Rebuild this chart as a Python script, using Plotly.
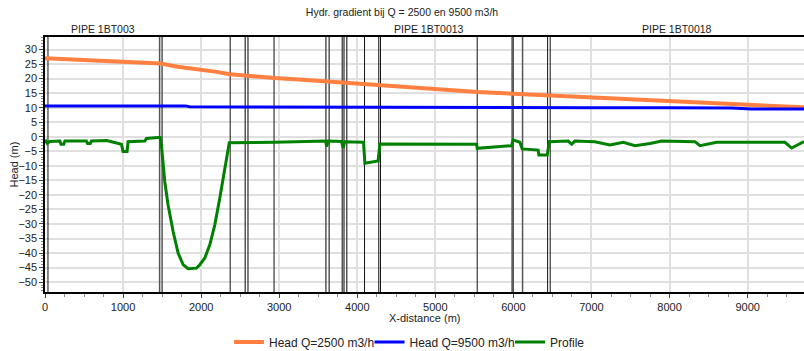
import plotly.graph_objects as go

# ---- data ----
head1_x = [0, 300, 700, 1000, 1250, 1480, 1700, 2000, 2200, 2370, 2600, 2940, 3300, 3600,
           3850, 4100, 4300, 4545, 4900, 5540, 6000, 6470, 7000, 7500, 8000, 8500, 9000, 9400, 9722]
head1_y = [27.0, 26.7, 26.3, 26.0, 25.7, 25.2, 24.1, 23.1, 22.3, 21.5, 20.9, 20.2, 19.6, 19.1,
           18.6, 18.1, 17.7, 17.2, 16.6, 15.4, 14.8, 14.3, 13.5, 13.0, 12.4, 11.8, 11.1, 10.6, 10.1]

head2_x = [0, 1800, 1850, 3000, 3600, 5000, 6000, 7000, 8000, 8800, 9050, 9722]
head2_y = [10.6, 10.6, 10.3, 10.2, 10.1, 10.1, 10.1, 10.0, 10.0, 9.9, 9.5, 9.5]

prof_x = [0, 30, 60, 190, 205, 240, 255, 530, 545, 580, 595, 790, 979, 1000, 1051, 1064,
          1278, 1300, 1448, 1475, 1491, 1504, 1534, 1576, 1641, 1705, 1769, 1833, 1940, 1983,
          2047, 2111, 2175, 2239, 2303, 2360, 2940, 3597, 3606, 3630, 3798, 3819, 3840, 4080,
          4097, 4267, 4289, 5528, 5536, 5976, 5997, 6083, 6112, 6317, 6326, 6433, 6459, 6703,
          6746, 6788, 7044, 7236, 7407, 7557, 7749, 7899, 8325, 8389, 8603, 9478, 9564, 9722]
prof_y = [-1.0, -2.3, -1.6, -1.5, -2.6, -2.6, -1.5, -1.5, -2.3, -2.3, -1.5, -1.3, -2.6, -5.1,
          -5.1, -1.7, -1.5, -0.6, -0.3, -0.3, -2.8, -7.4, -15.4, -23.4, -32.6, -40.0, -44.0,
          -45.4, -45.2, -44.0, -41.7, -37.2, -30.3, -21.1, -10.8, -2.1, -1.9, -1.5, -3.4, -1.5,
          -1.6, -3.8, -1.7, -1.9, -9.1, -8.3, -2.5, -2.6, -4.0, -3.1, -1.1, -1.9, -4.2, -4.6,
          -6.3, -6.3, -1.7, -1.5, -2.6, -1.5, -1.7, -2.8, -1.9, -3.1, -2.3, -1.5, -1.7, -3.1,
          -1.9, -1.9, -3.9, -1.7]

node_x = [38, 2372, 2934, 4093, 4275, 4297, 5536, 6438, 6471]
valve_x = [1468, 1500, 2565, 2600, 3598, 3640, 3808, 3830, 3865, 5983, 5998, 6117]

pipe_labels = ["PIPE 1BT003", "PIPE 1BT0013", "PIPE 1BT0018"]
pipe_label_x = [740, 4920, 8100]

series_names = ["Head Q=2500 m3/h", "Head Q=9500 m3/h", "Profile"]
title_text = "Hydr. gradient bij Q = 2500 en 9500 m3/h"

X_RANGE = [0, 9722]
Y_RANGE = [-53.4, 34.3]

FONT = "Liberation Sans, Arial, sans-serif"
TXT = "#222222"


def vlines(xs):
    vx, vy = [], []
    for xv in xs:
        vx += [xv, xv, None]
        vy += [Y_RANGE[0], Y_RANGE[1], None]
    return vx, vy


fig = go.Figure()
nx, ny = vlines(node_x)
fig.add_trace(go.Scatter(x=nx, y=ny, mode="lines", showlegend=False, hoverinfo="skip",
                         line=dict(color="#111111", width=1)))
vx, vy = vlines(valve_x)
fig.add_trace(go.Scatter(x=vx, y=vy, mode="lines", showlegend=False, hoverinfo="skip",
                         line=dict(color="#555555", width=1.5)))

fig.add_trace(go.Scatter(x=head1_x, y=head1_y, mode="lines", name=series_names[0],
                         line=dict(color="#FF8040", width=4)))
fig.add_trace(go.Scatter(x=head2_x, y=head2_y, mode="lines", name=series_names[1],
                         line=dict(color="#0000FF", width=3)))
fig.add_trace(go.Scatter(x=prof_x, y=prof_y, mode="lines", name=series_names[2],
                         line=dict(color="#008000", width=3)))

annotations = []
for lab, xv in zip(pipe_labels, pipe_label_x):
    annotations.append(dict(text=lab, x=xv, xref="x", y=1, yref="paper", yanchor="bottom",
                            showarrow=False, font=dict(size=10.5, color=TXT, family=FONT)))
annotations.append(dict(text="X-distance (m)", x=0.5, xref="paper", y=-(318 - 292) / 256,
                        yref="paper", yanchor="middle", showarrow=False,
                        font=dict(size=11, color=TXT, family=FONT)))
annotations.append(dict(text="Head (m)", x=(13 - 45) / 759, xref="paper", y=0.5, yref="paper",
                        textangle=-90, showarrow=False, xanchor="center", yanchor="middle",
                        font=dict(size=11, color=TXT, family=FONT)))

fig.update_layout(
    width=804, height=351,
    margin=dict(l=45, r=0, t=37, b=59),
    paper_bgcolor="white", plot_bgcolor="white",
    font=dict(family=FONT, size=11, color=TXT),
    title=dict(text=title_text, x=0.5, xref="container", xanchor="center",
               y=1 - 12 / 351, yref="container", yanchor="middle",
               font=dict(size=10.5, color=TXT, family=FONT)),
    showlegend=True,
    legend=dict(orientation="h", x=229 / 804, xref="container", xanchor="left",
                y=1 - 342 / 351, yref="container", yanchor="middle",
                font=dict(size=12, color=TXT, family=FONT),
                bgcolor="rgba(0,0,0,0)", itemwidth=30, entrywidth=95.5,
                entrywidthmode="pixels"),
    annotations=annotations,
)
fig.update_xaxes(range=X_RANGE, dtick=1000, tick0=0, showgrid=True, gridcolor="#e0e0e0",
                 gridwidth=1.5, showline=True, linecolor="black", linewidth=1.5, mirror=True,
                 ticks="outside", ticklen=4, tickcolor="#444444", zeroline=False,
                 tickfont=dict(size=11, color=TXT, family=FONT),
                 minor=dict(dtick=250, ticks="outside", ticklen=3, tickcolor="#888888",
                            showgrid=False))
fig.update_yaxes(range=Y_RANGE, dtick=5, tick0=0, showgrid=True, gridcolor="#e0e0e0",
                 gridwidth=1.5, showline=True, linecolor="black", linewidth=1.5, mirror=False,
                 ticks="outside", ticklen=4, tickcolor="#444444", zeroline=False,
                 tickfont=dict(size=11, color=TXT, family=FONT),
                 minor=dict(dtick=1, ticks="outside", ticklen=2, tickcolor="#888888",
                            showgrid=False))

fig.write_html("out.html")
